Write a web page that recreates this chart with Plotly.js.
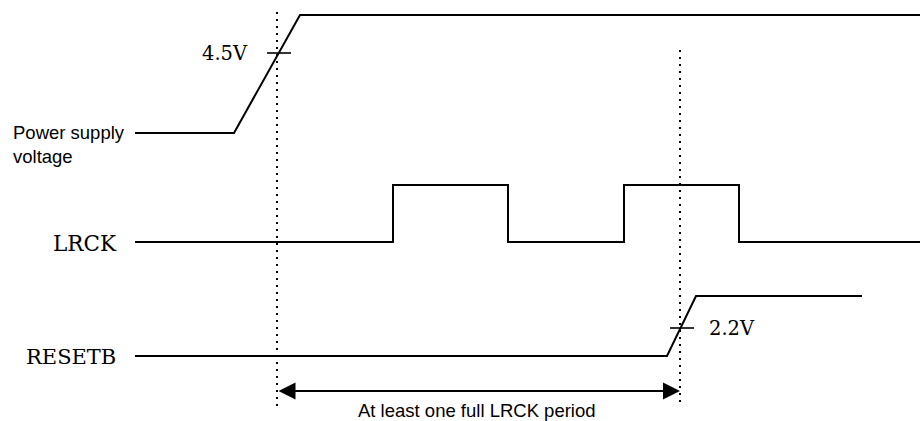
<!DOCTYPE html>
<html>
<head>
<meta charset="utf-8">
<script src="https://cdn.plot.ly/plotly-3.0.1.min.js"></script>
<style>html,body{margin:0;padding:0;background:#fff;}#chart{width:920px;height:421px;}</style>
</head>
<body>
<div id="chart"></div>
<script>
// Waveform data (time on x, level on y in diagram units)
const powerTime  = [135, 234, 300, 920];
const powerLevel = [133, 133, 15, 15];

const lrckTime  = [135, 393, 393, 508, 508, 624, 624, 739, 739, 920];
const lrckLevel = [242, 242, 185, 185, 242, 242, 185, 185, 242, 242];

const resetTime  = [135, 667, 696, 862];
const resetLevel = [356, 356, 296, 296];

// Threshold markers
const thrTime  = [279, 682];
const thrLevel = [53, 328];
const thrLabels = ['4.5V', '2.2V'];

// Timing markers
const markerTime = [277, 680];
const markerTop  = [12, 50];
const markerBottom = 406;

const signalNames = ['Power supply<br>voltage', 'LRCK', 'RESETB'];
const periodLabel = 'At least one full LRCK period';

const lineStyle = {color: '#000', width: 2};
const traces = [
  {x: powerTime, y: powerLevel},
  {x: lrckTime, y: lrckLevel},
  {x: resetTime, y: resetLevel}
].map(t => Object.assign(t, {type: 'scatter', mode: 'lines', line: lineStyle, hoverinfo: 'skip', showlegend: false}));

// dotted verticals
markerTime.forEach((t, i) => {
  traces.push({type: 'scatter', mode: 'lines', x: [t, t], y: [markerTop[i], markerBottom],
    line: {color: '#000', width: 2, dash: '2px,5px'}, hoverinfo: 'skip', showlegend: false});
});
// threshold ticks
thrTime.forEach((t, i) => {
  traces.push({type: 'scatter', mode: 'lines', x: [t - 12, t + 12], y: [thrLevel[i], thrLevel[i]],
    line: {color: '#000', width: 1.6}, hoverinfo: 'skip', showlegend: false});
});

const serif = 'DejaVu Serif, serif';
const sans = 'Liberation Sans, Arial, sans-serif';
const annotations = [
  {x: 11, y: 144, text: signalNames[0], xanchor: 'left', yanchor: 'middle', align: 'left', showarrow: false,
   font: {family: sans, size: 18.5, color: '#000'}},
  {x: 119, y: 243, text: signalNames[1], xanchor: 'right', yanchor: 'middle', showarrow: false,
   font: {family: serif, size: 21.5, color: '#000'}},
  {x: 118, y: 357, text: signalNames[2], xanchor: 'right', yanchor: 'middle', showarrow: false,
   font: {family: serif, size: 21, color: '#000'}},
  {x: 250, y: 53, text: thrLabels[0], xanchor: 'right', yanchor: 'middle', showarrow: false,
   font: {family: serif, size: 19.5, color: '#000'}},
  {x: 707, y: 328, text: thrLabels[1], xanchor: 'left', yanchor: 'middle', showarrow: false,
   font: {family: serif, size: 19.5, color: '#000'}},
  {x: 477, y: 410, text: periodLabel, xanchor: 'center', yanchor: 'middle', showarrow: false,
   font: {family: sans, size: 18.5, color: '#000'}},
  {x: markerTime[1], y: 391, ax: markerTime[0], ay: 391, xref: 'x', yref: 'y', axref: 'x', ayref: 'y',
   text: '', showarrow: true, arrowhead: 2, startarrowhead: 2, arrowside: 'end+start',
   arrowsize: 1.7, startarrowsize: 1.7, arrowwidth: 2, arrowcolor: '#000'}
];

const layout = {
  width: 920, height: 421,
  margin: {l: 0, r: 0, t: 0, b: 0},
  paper_bgcolor: '#fff', plot_bgcolor: '#fff',
  xaxis: {range: [0, 920], visible: false, fixedrange: true},
  yaxis: {range: [421, 0], visible: false, fixedrange: true},
  annotations: annotations,
  showlegend: false
};

Plotly.newPlot('chart', traces, layout, {staticPlot: true, displayModeBar: false});
</script>
</body>
</html>
